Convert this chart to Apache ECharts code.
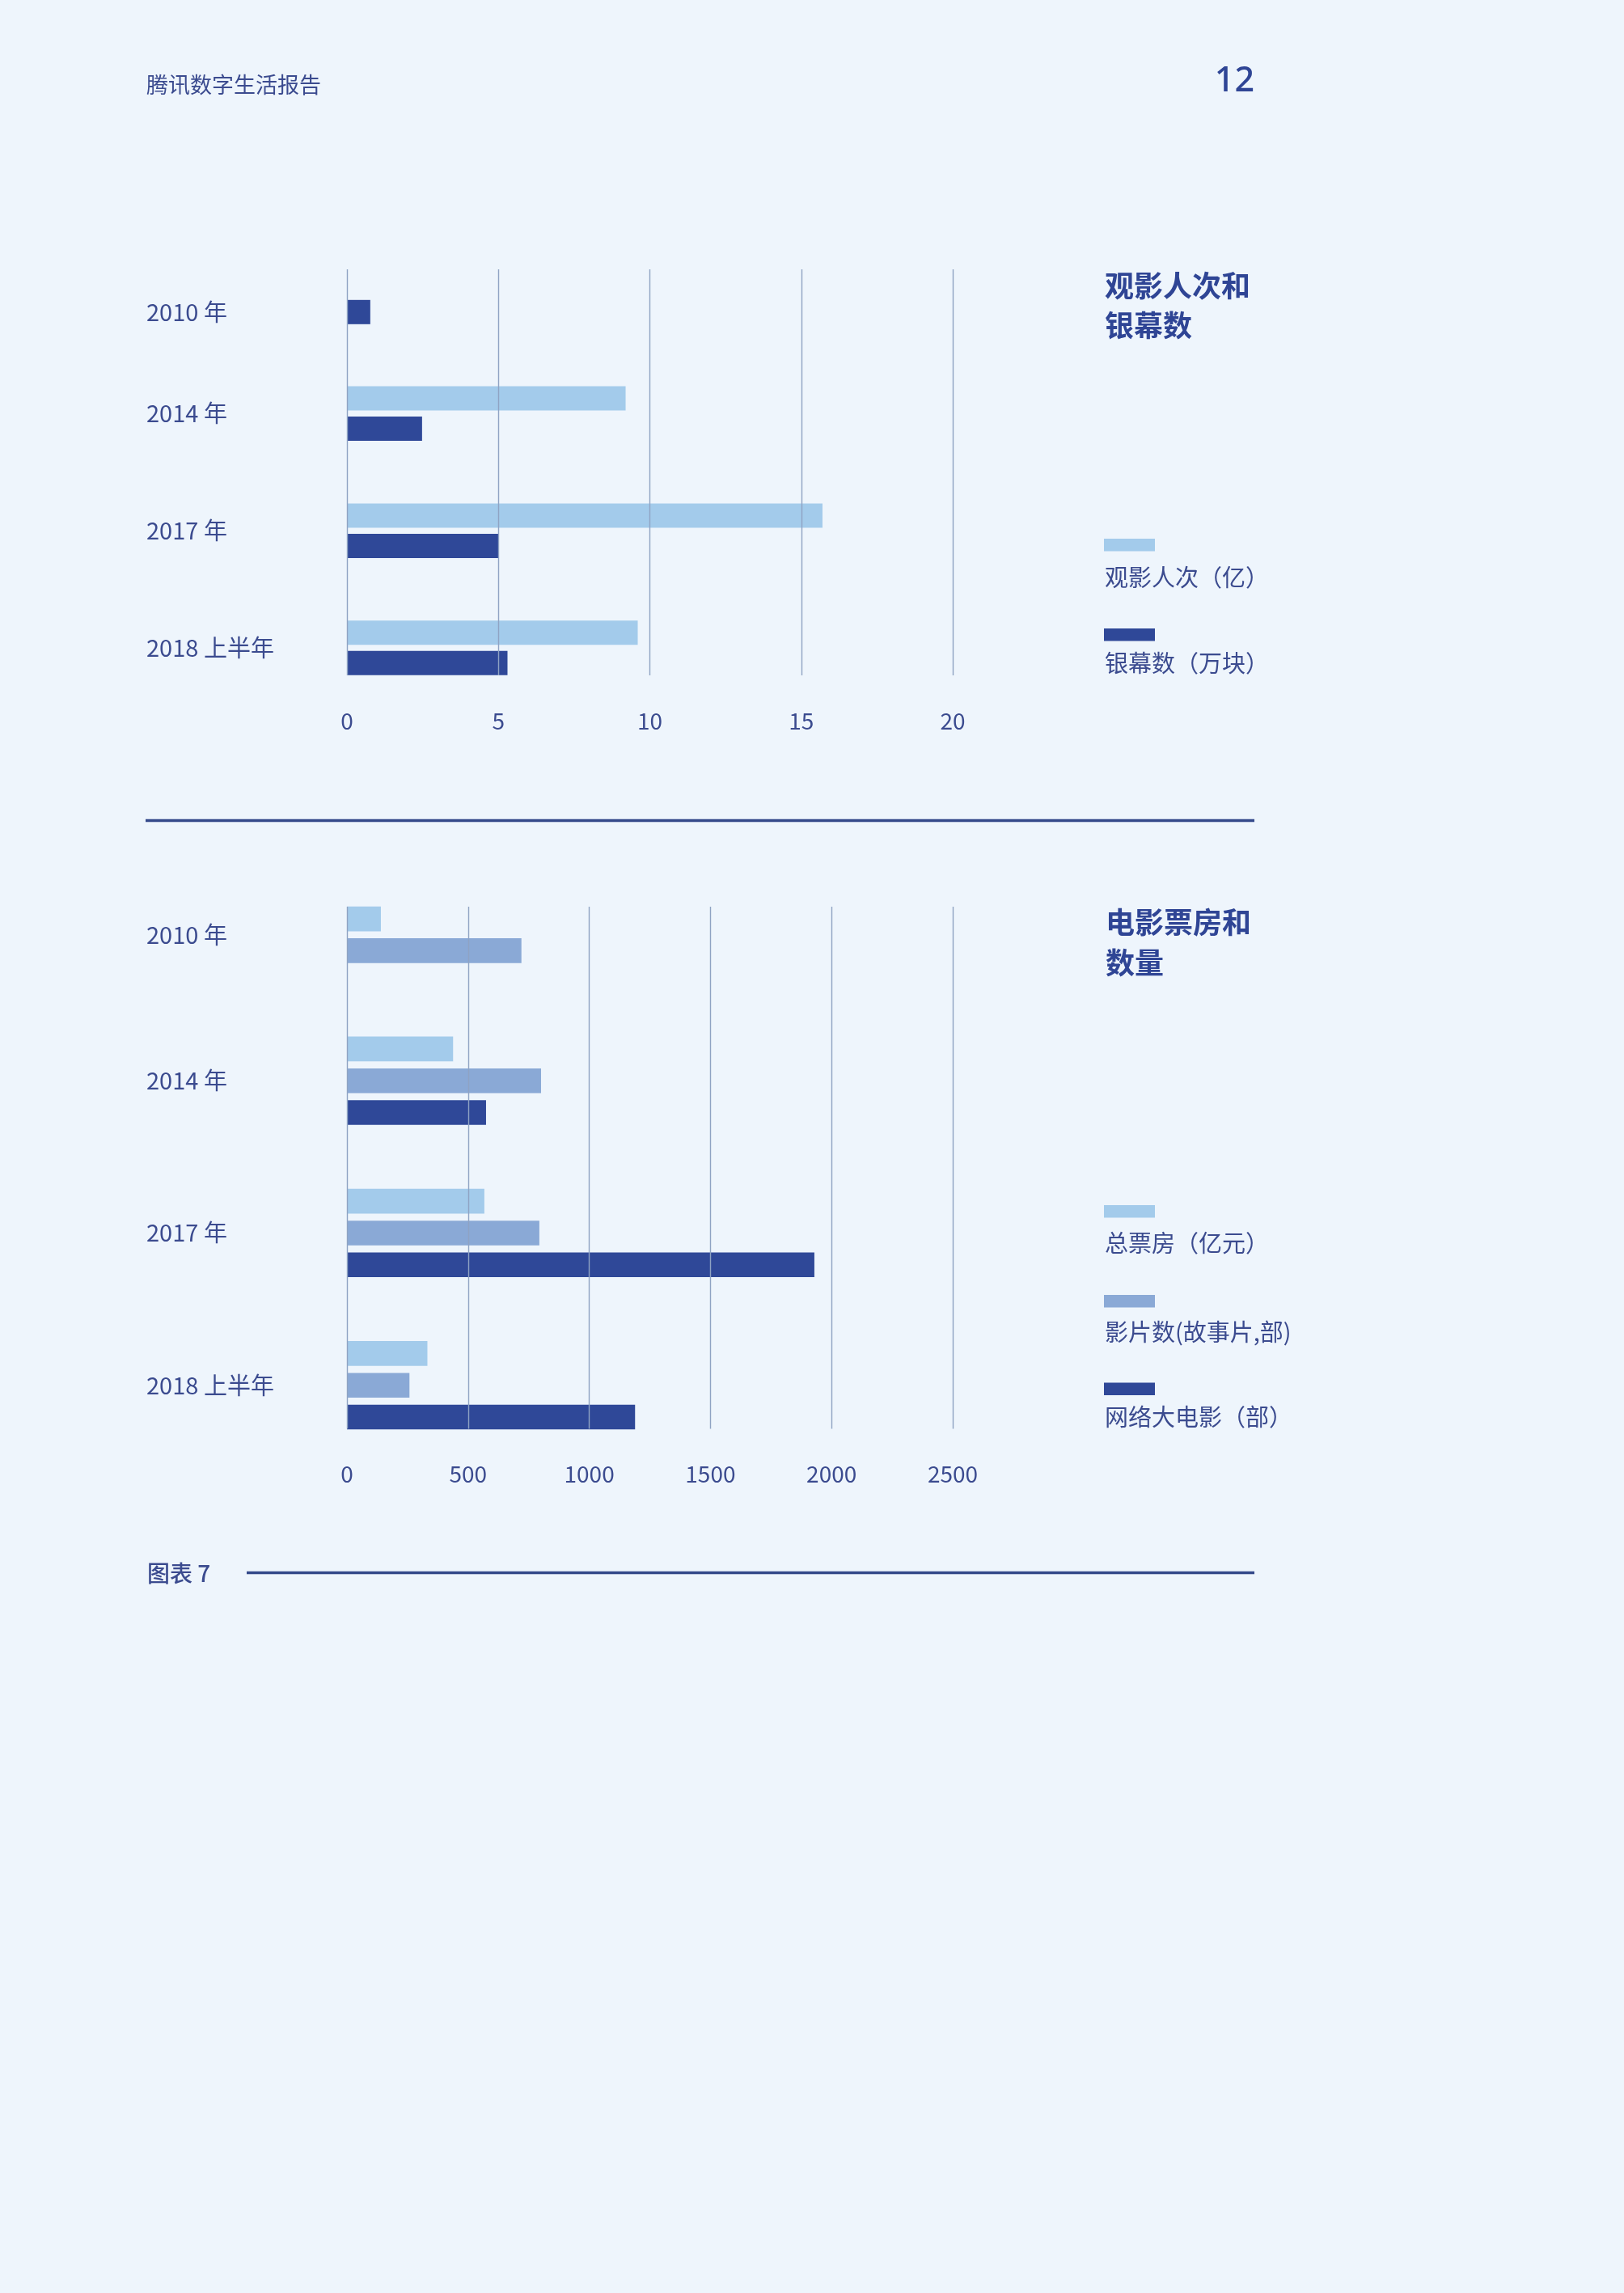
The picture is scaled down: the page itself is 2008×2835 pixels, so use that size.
<!DOCTYPE html>
<html>
<head>
<meta charset="utf-8">
<script src="https://cdn.jsdelivr.net/npm/echarts@6/dist/echarts.min.js"></script>
<style>
  html, body { margin: 0; padding: 0; background: #eef5fc; }
  #chart { width: 2008px; height: 2835px; }
</style>
</head>
<body>
<div id="chart"></div>
<script>
// ---------- data ----------
const categories = ['2010 年', '2014 年', '2017 年', '2018 上半年'];
// chart 1: 观影人次和银幕数
const viewers = [null, 9.2, 15.7, 9.6];      // 观影人次（亿）
const screens = [0.77, 2.48, 5.0, 5.3];      // 银幕数（万块）
const topTicks = [0, 5, 10, 15, 20];
// chart 2: 电影票房和数量
const boxOffice = [140, 438, 567, 332];      // 总票房（亿元）
const featureFilms = [720, 801, 794, 258];   // 影片数(故事片,部)
const webFilms = [null, 574, 1929, 1189];    // 网络大电影（部）
const bottomTicks = [0, 500, 1000, 1500, 2000, 2500];

const topTitle = '观影人次和\n银幕数';
const bottomTitle = '电影票房和\n数量';
const topSeriesNames = ['观影人次（亿）', '银幕数（万块）'];
const bottomSeriesNames = ['总票房（亿元）', '影片数(故事片,部)', '网络大电影（部）'];

// ---------- style ----------
const LIGHT = '#a3cbeb', MID = '#8aa9d6', DARK = '#2f4898';
const TEXT = '#3b4b8f', TITLE = '#2f4595', RULE = '#34498a';
const GRIDLINE = '#8fa3c3';
const FONT = '"Noto Sans CJK SC", "Noto Sans", sans-serif';
const LEFT = 429, RIGHT = 2008 - 1178;

const topSeries = [
  { name: topSeriesNames[0], data: viewers, color: LIGHT },
  { name: topSeriesNames[1], data: screens, color: DARK }
];
const bottomSeries = [
  { name: bottomSeriesNames[0], data: boxOffice, color: LIGHT },
  { name: bottomSeriesNames[1], data: featureFilms, color: MID },
  { name: bottomSeriesNames[2], data: webFilms, color: DARK }
];

const grid = [];
const xAxis = [];
const yAxis = [];
const series = [];

function addChart(cfg) {
  const step = cfg.ticks[1] - cfg.ticks[0];
  const maxV = cfg.ticks[cfg.ticks.length - 1];
  // grid for the split lines & value labels
  const gLines = grid.length;
  grid.push({ left: LEFT, right: RIGHT, top: cfg.lineTop, height: cfg.lineHeight });
  xAxis.push({
    gridIndex: gLines, type: 'value', min: cfg.ticks[0], max: maxV, interval: step, z: 10,
    axisLine: { show: false }, axisTick: { show: false },
    splitLine: { show: true, lineStyle: { color: GRIDLINE, width: 1.4 } },
    axisLabel: { margin: 42, fontSize: 28, color: TEXT, fontFamily: FONT, formatter: v => String(v) }
  });
  yAxis.push({ gridIndex: gLines, type: 'value', show: false, min: 0, max: 1 });

  // first row grid (only non-null series, centred) and remaining rows grid
  const rows = [
    { cats: cfg.categories.slice(0, 1), from: 0, to: 1, top: cfg.firstTop, height: cfg.firstHeight },
    { cats: cfg.categories.slice(1), from: 1, to: cfg.categories.length, top: cfg.restTop, height: cfg.restHeight }
  ];
  rows.forEach(r => {
    const g = grid.length;
    grid.push({ left: LEFT, right: RIGHT, top: r.top, height: r.height });
    xAxis.push({ gridIndex: g, type: 'value', min: cfg.ticks[0], max: maxV, show: false });
    yAxis.push({
      gridIndex: g, type: 'category', data: r.cats, inverse: true,
      axisLine: { show: false }, axisTick: { show: false }, splitLine: { show: false },
      axisLabel: { align: 'left', margin: LEFT - 181, fontSize: 29, color: TEXT, fontFamily: FONT }
    });
    cfg.series.forEach(s => {
      const vals = s.data.slice(r.from, r.to);
      if (vals.every(v => v === null)) return;
      series.push({
        type: 'bar', name: s.name, xAxisIndex: g, yAxisIndex: g, data: vals,
        barWidth: cfg.barWidth, barGap: cfg.barGap, silent: true,
        itemStyle: { color: s.color }
      });
    });
  });
}

addChart({
  categories, series: topSeries, ticks: topTicks,
  lineTop: 333, lineHeight: 502,
  firstTop: 313.4, firstHeight: 144.85,
  restTop: 438.9, restHeight: 434.5,
  barWidth: 30, barGap: '25%'
});
addChart({
  categories, series: bottomSeries, ticks: bottomTicks,
  lineTop: 1121, lineHeight: 645.5,
  firstTop: 1061.7, firstHeight: 188.25,
  restTop: 1242.1, restHeight: 564.75,
  barWidth: 30.7, barGap: '28%'
});

// legends (custom: swatch above label)
const graphic = [];
function legend(list, swatchTops, textCenters) {
  list.forEach((s, i) => {
    graphic.push({ type: 'rect', shape: { x: 1365, y: swatchTops[i], width: 63, height: 15.5 }, style: { fill: s.color }, silent: true });
    graphic.push({ type: 'text', x: 1366, y: textCenters[i], style: { text: s.name, font: '29px ' + FONT, fill: TEXT, align: 'left', verticalAlign: 'middle' }, silent: true });
  });
}
legend(topSeries, [666, 777], [714, 820]);
legend(bottomSeries, [1490, 1601, 1709.5], [1537, 1647, 1752]);

// page furniture
graphic.push({ type: 'text', x: 181, y: 105, style: { text: '腾讯数字生活报告', font: '27px ' + FONT, fill: TEXT, align: 'left', verticalAlign: 'middle' }, silent: true });
graphic.push({ type: 'text', x: 1551, y: 101, style: { text: '12', font: '500 43px "Noto Sans", sans-serif', fill: TITLE, align: 'right', verticalAlign: 'middle' }, silent: true });
graphic.push({ type: 'line', shape: { x1: 180, y1: 1014.5, x2: 1551, y2: 1014.5 }, style: { stroke: RULE, lineWidth: 3.3 }, silent: true });
graphic.push({ type: 'text', x: 182, y: 1945, style: { text: '图表 7', font: '500 28px ' + FONT, fill: TEXT, align: 'left', verticalAlign: 'middle' }, silent: true });
graphic.push({ type: 'line', shape: { x1: 305, y1: 1944.5, x2: 1551, y2: 1944.5 }, style: { stroke: RULE, lineWidth: 3.5 }, silent: true });

const chart = echarts.init(document.getElementById('chart'), null, { renderer: 'canvas', width: 2008, height: 2835 });
chart.setOption({
  backgroundColor: '#eef5fc',
  animation: false,
  textStyle: { fontFamily: FONT },
  title: [
    { text: topTitle, left: 1366, top: 329, padding: 0, textStyle: { fontSize: 36, fontWeight: 'bold', color: TITLE, lineHeight: 49, fontFamily: FONT } },
    { text: bottomTitle, left: 1367, top: 1115, padding: 0, textStyle: { fontSize: 36, fontWeight: 'bold', color: TITLE, lineHeight: 50, fontFamily: FONT } }
  ],
  grid, xAxis, yAxis, series, graphic
});
</script>
</body>
</html>
